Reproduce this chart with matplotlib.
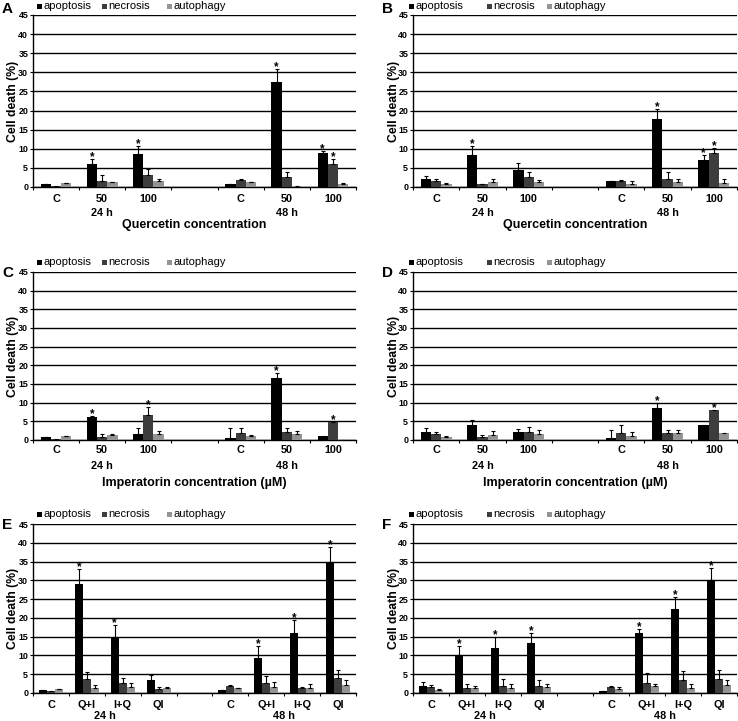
import numpy as np
import matplotlib
matplotlib.use("Agg")
import matplotlib.pyplot as plt
from matplotlib.patches import Rectangle

plt.rcParams['font.family'] = ['Liberation Sans', 'DejaVu Sans']

W, H = 738, 721
nan = np.nan

series_names = ["apoptosis", "necrosis", "autophagy"]
series_colors = ["#000000", "#3d3d3d", "#949494"]

cats_single = ["C", "50", "100", "", "C", "50", "100"]
cats_comb = ["C", "Q+I", "I+Q", "QI", "", "C", "Q+I", "I+Q", "QI"]
time_labels = ["24 h", "48 h"]
y_ticks = [0, 5, 10, 15, 20, 25, 30, 35, 40, 45]

# ---------------- Panel A (quercetin) ----------------
A_apoptosis = [0.7, 5.9, 8.6, nan, 0.7, 27.5, 9.0]
A_apoptosis_err = [0.1, 1.5, 2.1, nan, 0.1, 3.5, 0.3]
A_necrosis = [0.3, 1.5, 3.1, nan, 1.9, 2.5, 6.1]
A_necrosis_err = [nan, 1.7, 1.7, nan, 0.2, 1.3, 1.2]
A_autophagy = [1.0, 1.2, 1.5, nan, 1.2, 0.3, 0.7]
A_autophagy_err = [0.1, 0.2, 0.7, nan, 0.1, nan, 0.4]
A_stars = [(1, 0), (2, 0), (5, 0), (6, 0), (6, 1)]

# ---------------- Panel B (quercetin) ----------------
B_apoptosis = [2.0, 8.3, 4.4, nan, 1.5, 17.9, 7.0]
B_apoptosis_err = [0.9, 2.5, 1.9, nan, 0.1, 2.6, 1.3]
B_necrosis = [1.6, 0.7, 2.5, nan, 1.7, 2.2, 9.0]
B_necrosis_err = [0.6, 0.2, 1.3, nan, 0.2, 1.6, 1.1]
B_autophagy = [0.8, 1.2, 1.3, nan, 0.9, 1.4, 1.1]
B_autophagy_err = [0.2, 0.8, 0.5, nan, 0.8, 0.8, 0.9]
B_stars = [(1, 0), (5, 0), (6, 0), (6, 1)]

# ---------------- Panel C (imperatorin) ----------------
C_apoptosis = [0.7, 6.1, 1.5, nan, 0.6, 16.5, 1.0]
C_apoptosis_err = [0.1, 0.3, 1.8, nan, 2.5, 1.4, nan]
C_necrosis = [0.3, 0.9, 6.6, nan, 1.8, 2.2, 4.9]
C_necrosis_err = [nan, 0.8, 2.2, nan, 1.5, 1.1, nan]
C_autophagy = [1.0, 1.25, 1.5, nan, 1.1, 1.5, 0.1]
C_autophagy_err = [0.1, 0.35, 1.0, nan, 0.15, 1.0, nan]
C_stars = [(1, 0), (2, 1), (5, 0), (6, 1)]

# ---------------- Panel D (imperatorin) ----------------
D_apoptosis = [2.1, 4.0, 2.1, nan, 0.5, 8.6, 3.9]
D_apoptosis_err = [1.0, 1.3, 0.9, nan, 2.2, 1.2, nan]
D_necrosis = [1.6, 0.9, 2.1, nan, 1.8, 1.8, 8.1]
D_necrosis_err = [0.5, 0.4, 1.5, nan, 2.3, 1.0, nan]
D_autophagy = [0.7, 1.3, 1.6, nan, 1.1, 1.8, 1.8]
D_autophagy_err = [0.4, 1.2, 1.2, nan, 1.0, 1.0, nan]
D_stars = [(5, 0), (6, 1)]

# ---------------- Panel E (combinations) ----------------
E_apoptosis = [0.7, 29.0, 14.7, 3.5, nan, 0.7, 9.4, 16.0, 34.9]
E_apoptosis_err = [0.1, 3.9, 3.4, 1.2, nan, 0.1, 3.1, 3.4, 4.0]
E_necrosis = [0.4, 3.8, 2.7, 1.0, nan, 1.9, 2.7, 1.4, 3.9]
E_necrosis_err = [nan, 1.8, 1.4, 0.5, nan, 0.15, 1.8, 0.1, 2.2]
E_autophagy = [1.0, 1.2, 1.7, 1.2, nan, 1.2, 1.7, 1.4, 2.1]
E_autophagy_err = [0.1, 1.0, 1.0, 0.3, nan, 0.1, 1.2, 1.0, 1.3]
E_stars = [(1, 0), (2, 0), (6, 0), (7, 0), (8, 0)]

# ---------------- Panel F (combinations) ----------------
F_apoptosis = [1.9, 10.0, 11.9, 13.3, nan, 0.5, 15.9, 22.3, 30.1]
F_apoptosis_err = [0.9, 2.6, 2.9, 2.7, nan, 0.1, 1.2, 3.3, 3.1]
F_necrosis = [1.7, 1.2, 1.8, 1.8, nan, 1.7, 2.7, 3.5, 3.6]
F_necrosis_err = [0.4, 1.2, 1.9, 1.6, nan, 0.1, 2.7, 2.3, 2.5]
F_autophagy = [0.9, 1.2, 1.4, 1.6, nan, 1.1, 1.9, 1.4, 2.2]
F_autophagy_err = [0.05, 0.7, 0.9, 0.9, nan, 0.6, 0.5, 1.1, 1.2]
F_stars = [(1, 0), (2, 0), (3, 0), (6, 0), (7, 0), (8, 0)]

title_quercetin = "Quercetin concentration"
title_imperatorin = "Imperatorin concentration (\u00b5M)"

panels = [
    dict(letter="A", cats=cats_single, title=title_quercetin,
         vals=[A_apoptosis, A_necrosis, A_autophagy],
         errs=[A_apoptosis_err, A_necrosis_err, A_autophagy_err], stars=A_stars,
         box=(33, 15, 356, 187), letter_xy=(2, 9), leg_x=(37, 102, 167), leg_y=6,
         off=(6.5, 25.5, 38)),
    dict(letter="B", cats=cats_single, title=title_quercetin,
         vals=[B_apoptosis, B_necrosis, B_autophagy],
         errs=[B_apoptosis_err, B_necrosis_err, B_autophagy_err], stars=B_stars,
         box=(413, 15, 737, 187), letter_xy=(382, 9), leg_x=(409, 487, 547), leg_y=6,
         off=(6.5, 25.5, 38)),
    dict(letter="C", cats=cats_single, title=title_imperatorin,
         vals=[C_apoptosis, C_necrosis, C_autophagy],
         errs=[C_apoptosis_err, C_necrosis_err, C_autophagy_err], stars=C_stars,
         box=(33, 272, 356, 440), letter_xy=(2, 273), leg_x=(37, 102, 167), leg_y=262,
         off=(5, 26, 43)),
    dict(letter="D", cats=cats_single, title=title_imperatorin,
         vals=[D_apoptosis, D_necrosis, D_autophagy],
         errs=[D_apoptosis_err, D_necrosis_err, D_autophagy_err], stars=D_stars,
         box=(413, 272, 737, 440), letter_xy=(382, 273), leg_x=(409, 487, 547), leg_y=262,
         off=(5, 26, 43)),
    dict(letter="E", cats=cats_comb, title=None,
         vals=[E_apoptosis, E_necrosis, E_autophagy],
         errs=[E_apoptosis_err, E_necrosis_err, E_autophagy_err], stars=E_stars,
         box=(33, 524, 356, 693), letter_xy=(2, 525), leg_x=(37, 102, 167), leg_y=514,
         off=(7.0, 23.0, None)),
    dict(letter="F", cats=cats_comb, title=None,
         vals=[F_apoptosis, F_necrosis, F_autophagy],
         errs=[F_apoptosis_err, F_necrosis_err, F_autophagy_err], stars=F_stars,
         box=(413, 524, 737, 693), letter_xy=(382, 525), leg_x=(409, 487, 547), leg_y=514,
         off=(7.0, 23.0, None)),
]

fig = plt.figure(figsize=(W / 100, H / 100), dpi=100)
fig.patch.set_facecolor("white")


def fx(px):
    return px / W


def fy(py):
    return 1 - py / H


for p in panels:
    l, t, r, b = p["box"]
    ax = fig.add_axes([fx(l), fy(b), (r - l) / W, (b - t) / H])
    cats = p["cats"]
    n = len(cats)
    x = np.arange(n) + 0.5
    w = 1 / 4.5
    for i in range(3):
        xs = x + (i - 1) * w
        v = np.array(p["vals"][i], dtype=float)
        e = np.array(p["errs"][i], dtype=float)
        ax.bar(xs, np.nan_to_num(v), width=w, color=series_colors[i], linewidth=0, zorder=3)
        ax.errorbar(xs, v, yerr=[np.zeros(n), e], fmt='none', ecolor='black',
                    elinewidth=0.8, capsize=1.6, capthick=0.8, zorder=4)
    for (ci, si) in p["stars"]:
        v = p["vals"][si][ci]
        e = p["errs"][si][ci]
        top = v + (0 if np.isnan(e) else e)
        ax.text(x[ci] + (si - 1) * w, top - 0.3, "*", ha='center', va='baseline',
                fontsize=8.5, fontweight='bold', zorder=5)

    ax.set_xlim(0, n)
    ax.set_ylim(0, 45)
    ax.set_yticks(y_ticks)
    ax.set_yticklabels([str(v) for v in y_ticks], fontsize=6.4, fontweight='bold')
    ax.yaxis.grid(True, color='black', linewidth=1.0)
    ax.set_axisbelow(True)
    for s in ("top", "right"):
        ax.spines[s].set_visible(False)
    for s in ("left", "bottom"):
        ax.spines[s].set_linewidth(1.0)
        ax.spines[s].set_color("black")
    ax.tick_params(axis='y', length=2.5, width=0.8, pad=1.0, direction='out')
    ax.set_xticks(np.arange(n + 1))
    ax.set_xticklabels([])
    ax.tick_params(axis='x', which='major', length=2.5, width=0.8, direction='out')
    ax.set_xticks(x, minor=True)
    ax.set_xticklabels(cats, minor=True, fontsize=7.8, fontweight='bold')
    ax.tick_params(axis='x', which='minor', length=0, pad=p["off"][0] * 0.72)

    ax.set_ylabel("Cell death (%)", fontsize=8.8, fontweight='bold', va='center')
    ax.yaxis.set_label_coords(-19.5 / (r - l), 0.5)

    # group labels
    half = n // 2
    gcent = [half / 2.0, n - half / 2.0]
    for gl, gc in zip(time_labels, gcent):
        ax.annotate(gl, xy=(gc, 0), xycoords=('data', 'axes fraction'),
                    xytext=(0, -p["off"][1] * 0.72), textcoords='offset points',
                    ha='center', va='center', fontsize=7.8, fontweight='bold')
    if p["title"] is not None:
        ax.annotate(p["title"], xy=(0.5, 0), xycoords='axes fraction',
                    xytext=(0, -p["off"][2] * 0.72), textcoords='offset points',
                    ha='center', va='center', fontsize=9, fontweight='bold')

    # panel letter
    lx, ly = p["letter_xy"]
    fig.text(fx(lx), fy(ly), p["letter"], fontsize=11, fontweight='bold',
             ha='left', va='center')

    # legend
    sq = 5
    for i, name in enumerate(series_names):
        sx = p["leg_x"][i]
        fig.add_artist(Rectangle((fx(sx), fy(p["leg_y"] + sq / 2)), sq / W, sq / H,
                                 transform=fig.transFigure, facecolor=series_colors[i],
                                 edgecolor='none'))
        fig.text(fx(sx + sq + 1), fy(p["leg_y"]), name, fontsize=8,
                 ha='left', va='center')

fig.savefig("out.png", dpi=100, facecolor="white")
